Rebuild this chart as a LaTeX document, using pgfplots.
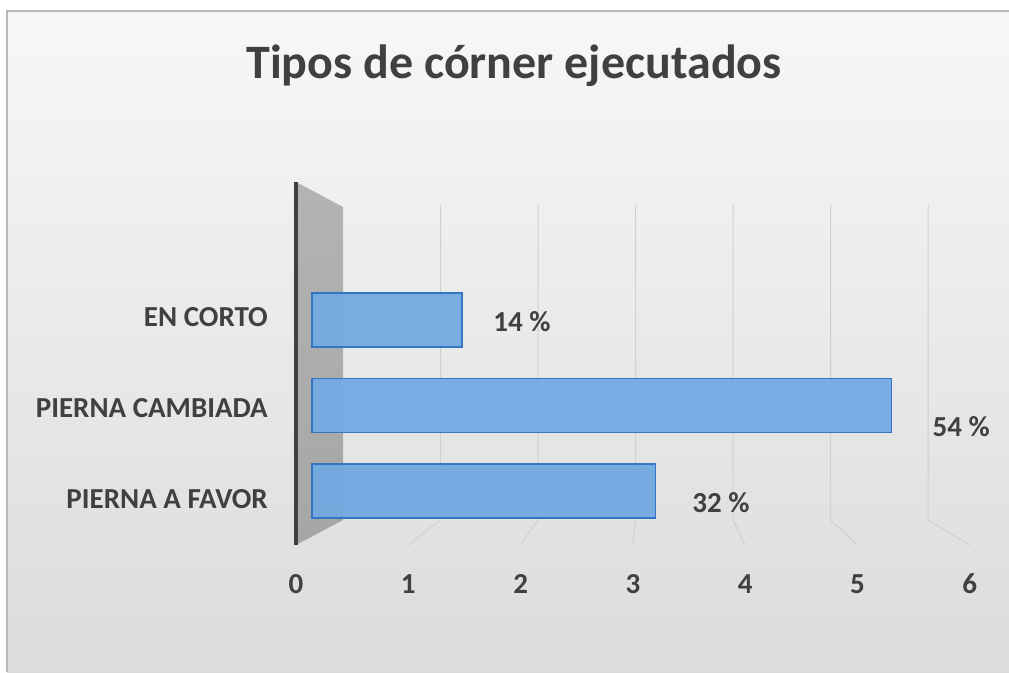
\documentclass[border=0pt]{standalone}
\usepackage{pgfplots}
\pgfplotsset{compat=1.18}
\usepackage{pgfplotstable}
\usepackage{fontspec}
\setmainfont{Carlito}
\definecolor{txt}{RGB}{64,64,64}
\definecolor{barfill}{RGB}{114,170,226}
\definecolor{baredge}{RGB}{52,118,196}
\definecolor{wallgray}{RGB}{166,166,166}
\definecolor{gridc}{RGB}{208,208,208}
\pgfplotstableread{
y x pct dx dy
0 3.2 32 33 -12
1 5.4 54 37 -21
2 1.4 14 27 -2
}\datatable
\begin{document}
\begin{tikzpicture}[x=1pt,y=1pt]
\useasboundingbox (0,0) rectangle (1009,672);
\fill[white] (0,0) rectangle (1009,672);
\shade[top color=black!3, bottom color=black!14] (7,0) rectangle (1009,661);
\draw[black!28, line width=2pt] (7,0) -- (7,661) -- (1009,661);
% back wall
\shade[top color=wallgray!85!white, bottom color=wallgray] (296,490) -- (343,465) -- (343,152) -- (296,127) -- cycle;
% grid lines (back plane + floor)
\foreach \k in {1,...,6}{
  \draw[gridc, line width=1pt] ({343+97.5*\k},467) -- ({343+97.5*\k},152) -- ({296+112.3*\k},127);
}
\draw[txt, line width=4pt] (296,490) -- (296,127);
\node[anchor=base, font=\bfseries\fontsize{48}{52}\selectfont, text=txt] at (514,593) {Tipos de córner ejecutados};
\begin{axis}[
  at={(312pt,138.25pt)}, anchor=south west,
  x=107.3pt, y=85.5pt,
  xmin=0, xmax=6, ymin=-0.5, ymax=2.5,
  clip=false,
  axis line style={draw=none},
  major tick length=0pt,
  xtick={0,...,6},
  xticklabel={\pgfmathsetmacro\myoff{2*(-16+5*\ticknum)}\makebox[0pt]{\hspace*{\myoff pt}\pgfmathprintnumber{\tick}}},
  xticklabel style={anchor=center, yshift=-50.25pt},
  ytick={-0.094,0.965,2.03},
  yticklabels={PIERNA A FAVOR, PIERNA CAMBIADA, EN CORTO},
  yticklabel style={anchor=east, xshift=-40.7pt},
  tick label style={font=\bfseries\fontsize{29}{32}\selectfont, text=txt},
  /pgf/number format/assume math mode=true,
]
\addplot[xbar, bar width=54pt, fill=barfill, fill opacity=0.95, draw=baredge, line width=1.6pt,
  point meta=explicit symbolic,
  visualization depends on={\thisrow{dx}\as\dx},
  visualization depends on={\thisrow{dy}\as\dy},
  nodes near coords={\pgfplotspointmeta\ \%},
  every node near coord/.append style={anchor=west, xshift=\dx pt, yshift=\dy pt,
    font=\bfseries\fontsize{29}{32}\selectfont, text=txt, text opacity=1}]
  table[x=x, y=y, meta=pct] {\datatable};
\end{axis}
\end{tikzpicture}
\end{document}
